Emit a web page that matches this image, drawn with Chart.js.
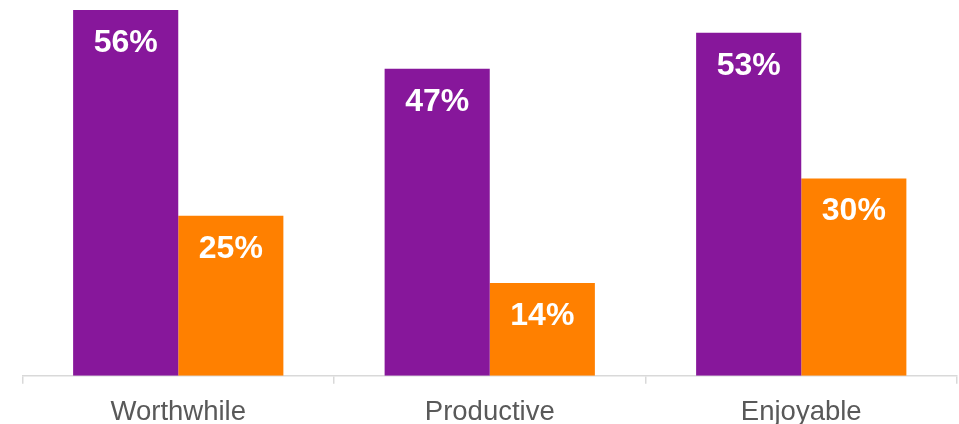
<!DOCTYPE html>
<html>
<head>
<meta charset="utf-8">
<script src="https://cdn.jsdelivr.net/npm/chart.js@4/dist/chart.umd.min.js"></script>
<style>
  html, body { margin: 0; padding: 0; background: #ffffff; }
  #wrap { width: 959px; height: 424px; }
</style>
</head>
<body>
<div id="wrap"><canvas id="c" width="959" height="424"></canvas></div>
<script>
const categories = ["Worthwhile", "Productive", "Enjoyable"];
const seriesPurple = [56, 47, 52.5];
const seriesOrange = [24.5, 14.2, 30.2];
const labelsPurple = ["56%", "47%", "53%"];
const labelsOrange = ["25%", "14%", "30%"];

const PURPLE = "#87179B";
const ORANGE = "#FF8000";
const FONT = "'Liberation Sans', Arial, Helvetica, sans-serif";

const valueLabels = {
  id: "valueLabels",
  afterDatasetsDraw(chart) {
    const ctx = chart.ctx;
    ctx.save();
    ctx.font = "bold 32px " + FONT;
    ctx.fillStyle = "#ffffff";
    ctx.textAlign = "center";
    ctx.textBaseline = "middle";
    chart.data.datasets.forEach((ds, di) => {
      const meta = chart.getDatasetMeta(di);
      meta.data.forEach((el, i) => {
        ctx.fillText(ds.valueText[i], el.x, el.y + 33);
      });
    });
    ctx.restore();
  }
};

new Chart(document.getElementById("c"), {
  type: "bar",
  data: {
    labels: categories,
    datasets: [
      { data: seriesPurple, valueText: labelsPurple, backgroundColor: PURPLE, borderWidth: 0 },
      { data: seriesOrange, valueText: labelsOrange, backgroundColor: ORANGE, borderWidth: 0 }
    ]
  },
  options: {
    responsive: false,
    animation: false,
    events: [],
    categoryPercentage: 0.675,
    barPercentage: 1.0,
    layout: { padding: { left: 22.5, right: 2, top: 10, bottom: 0 } },
    plugins: { legend: { display: false }, tooltip: { enabled: false } },
    scales: {
      x: {
        afterFit(scale) { scale.height = 48.3; },
        grid: {
          display: true,
          drawOnChartArea: false,
          drawTicks: true,
          tickLength: 8,
          offset: true,
          color: "#D9D9D9",
          lineWidth: 1.5
        },
        border: { display: true, color: "#D9D9D9", width: 1.5 },
        ticks: {
          color: "#595959",
          padding: 14,
          font: { family: FONT, size: 27.5, lineHeight: 1.1 }
        }
      },
      y: {
        display: false,
        min: 0,
        max: 56
      }
    }
  },
  plugins: [valueLabels]
});
</script>
</body>
</html>
